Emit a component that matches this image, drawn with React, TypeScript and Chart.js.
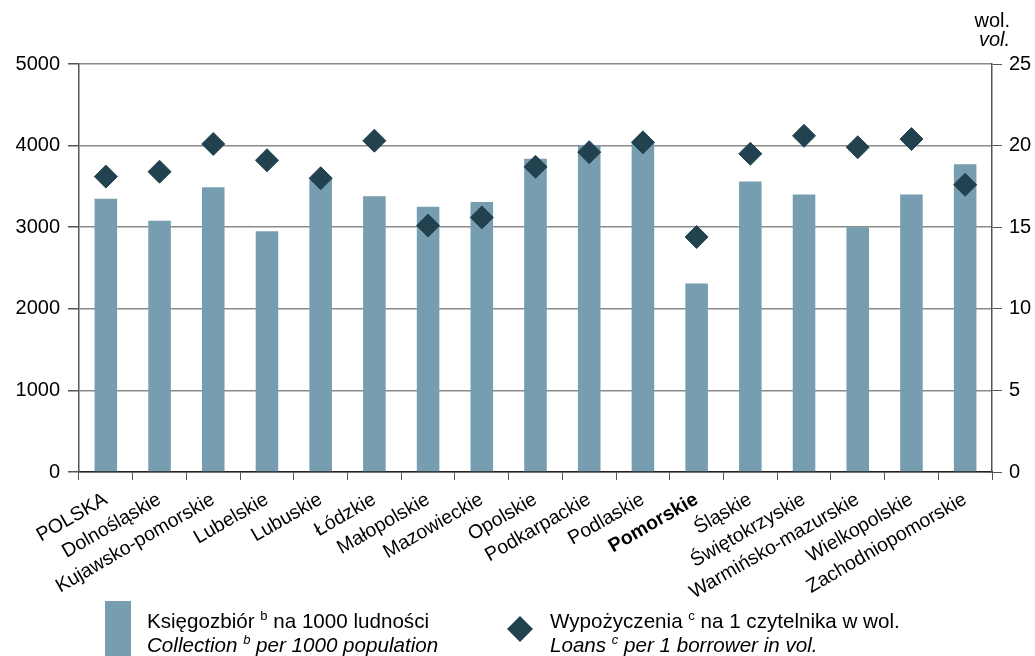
import React, { useEffect, useRef } from "react";
import { Chart, registerables } from "chart.js";

Chart.register(...registerables);

const categories = [
  "POLSKA",
  "Dolnośląskie",
  "Kujawsko-pomorskie",
  "Lubelskie",
  "Lubuskie",
  "Łódzkie",
  "Małopolskie",
  "Mazowieckie",
  "Opolskie",
  "Podkarpackie",
  "Podlaskie",
  "Pomorskie",
  "Śląskie",
  "Świętokrzyskie",
  "Warmińsko-mazurskie",
  "Wielkopolskie",
  "Zachodniopomorskie",
];

const collection = [3350, 3080, 3490, 2950, 3590, 3380, 3250, 3310, 3840, 4000, 4040, 2310, 3560, 3400, 3000, 3400, 3770];
const loans = [18.1, 18.4, 20.1, 19.1, 18.0, 20.3, 15.1, 15.6, 18.7, 19.6, 20.2, 14.4, 19.5, 20.6, 19.9, 20.4, 17.6];

const highlighted = "Pomorskie";
const unitPl = "wol.";
const unitEn = "vol.";
const legendBar = { pl: ["Księgozbiór ", "b", " na 1000 ludności"], en: ["Collection ", "b", " per 1000 population"] };
const legendPoint = { pl: ["Wypożyczenia ", "c", " na 1 czytelnika w wol."], en: ["Loans ", "c", " per 1 borrower in vol."] };

const FAMILY = '"Liberation Sans", Arial, sans-serif';
const BAR_COLOR = "#779db1";
const POINT_COLOR = "#22424f";

function drawSupLine(ctx: CanvasRenderingContext2D, parts: string[], x: number, y: number, italic: boolean) {
  const style = italic ? "italic " : "";
  ctx.font = `${style}20.6px ${FAMILY}`;
  ctx.fillText(parts[0], x, y);
  let cx = x + ctx.measureText(parts[0]).width;
  ctx.font = `${style}13px ${FAMILY}`;
  ctx.fillText(parts[1], cx, y - 8);
  cx += ctx.measureText(parts[1]).width;
  ctx.font = `${style}20.6px ${FAMILY}`;
  ctx.fillText(parts[2], cx, y);
}

const extrasPlugin = {
  id: "extras",
  afterDraw(chart: any) {
    const ctx = chart.ctx as CanvasRenderingContext2D;
    ctx.save();
    ctx.fillStyle = "#000";
    ctx.textBaseline = "alphabetic";
    // unit label
    ctx.textAlign = "right";
    ctx.font = `20px ${FAMILY}`;
    ctx.fillText(unitPl, 1010, 27);
    ctx.font = `italic 20px ${FAMILY}`;
    ctx.fillText(unitEn, 1010, 46);
    // legend
    ctx.textAlign = "left";
    ctx.fillStyle = BAR_COLOR;
    ctx.fillRect(105, 601, 26, 55);
    ctx.fillStyle = "#000";
    drawSupLine(ctx, legendBar.pl, 147, 628, false);
    drawSupLine(ctx, legendBar.en, 147, 652, true);
    ctx.fillStyle = POINT_COLOR;
    ctx.beginPath();
    ctx.moveTo(520, 616);
    ctx.lineTo(533, 629);
    ctx.lineTo(520, 642);
    ctx.lineTo(507, 629);
    ctx.closePath();
    ctx.fill();
    ctx.fillStyle = "#000";
    drawSupLine(ctx, legendPoint.pl, 550, 628, false);
    drawSupLine(ctx, legendPoint.en, 550, 652, true);
    ctx.restore();
  },
};

export default function App() {
  const canvasRef = useRef<HTMLCanvasElement | null>(null);

  useEffect(() => {
    const canvas = canvasRef.current;
    if (!canvas) return;
    const chart = new Chart(canvas, {
      type: "bar",
      data: {
        labels: categories,
        datasets: [
          {
            type: "line",
            label: "Wypożyczenia",
            data: loans,
            yAxisID: "y1",
            showLine: false,
            pointStyle: "rectRot",
            pointRadius: 11.5,
            pointHoverRadius: 11.5,
            pointBackgroundColor: POINT_COLOR,
            pointBorderColor: POINT_COLOR,
            pointBorderWidth: 1,
            borderColor: POINT_COLOR,
            backgroundColor: POINT_COLOR,
            order: 0,
          } as any,
          {
            type: "bar",
            label: "Księgozbiór",
            data: collection,
            yAxisID: "y",
            backgroundColor: BAR_COLOR,
            borderWidth: 0,
            categoryPercentage: 1,
            barPercentage: 0.42,
            order: 1,
          },
        ],
      },
      options: {
        animation: false,
        responsive: true,
        maintainAspectRatio: false,
        layout: { padding: { top: 64, left: 0, right: 0, bottom: 0 } },
        plugins: { legend: { display: false }, tooltip: { enabled: false } },
        scales: {
          x: {
            offset: true,
            grid: {
              offset: true,
              drawOnChartArea: false,
              drawTicks: true,
              tickLength: 8,
              color: "#555",
              tickColor: "#555",
            },
            border: { display: true, color: "#222", width: 1.5 },
            ticks: {
              autoSkip: false,
              maxRotation: 30,
              minRotation: 30,
              padding: 8,
              color: "#000",
              font: (c: any) => ({
                family: FAMILY,
                size: 19.5,
                weight: categories[c.index] === highlighted ? "bold" : "normal",
              }),
            },
            afterFit: (s: any) => {
              s.height = 184;
            },
          },
          y: {
            position: "left",
            min: 0,
            max: 5000,
            ticks: {
              stepSize: 1000,
              padding: 8,
              color: "#000",
              font: { family: FAMILY, size: 20 },
              callback: (v: any) => String(v),
            },
            grid: { color: "#8a8a8a", tickColor: "#555", tickLength: 11, lineWidth: 1.5 },
            border: { display: true, color: "#555", width: 1.5 },
            afterFit: (s: any) => {
              s.width = 79;
            },
          },
          y1: {
            position: "right",
            min: 0,
            max: 25,
            ticks: {
              stepSize: 5,
              padding: 7,
              color: "#000",
              font: { family: FAMILY, size: 20 },
              callback: (v: any) => String(v),
            },
            grid: { drawOnChartArea: false, tickColor: "#555", tickLength: 10 },
            border: { display: true, color: "#555", width: 1.5 },
            afterFit: (s: any) => {
              s.width = 43;
            },
          },
        },
      },
      plugins: [extrasPlugin],
    });
    return () => chart.destroy();
  }, []);

  return (
    <div style={{ position: "fixed", left: 0, top: 0, width: 1035, height: 656, background: "#fff" }}>
      <canvas ref={canvasRef} />
    </div>
  );
}
